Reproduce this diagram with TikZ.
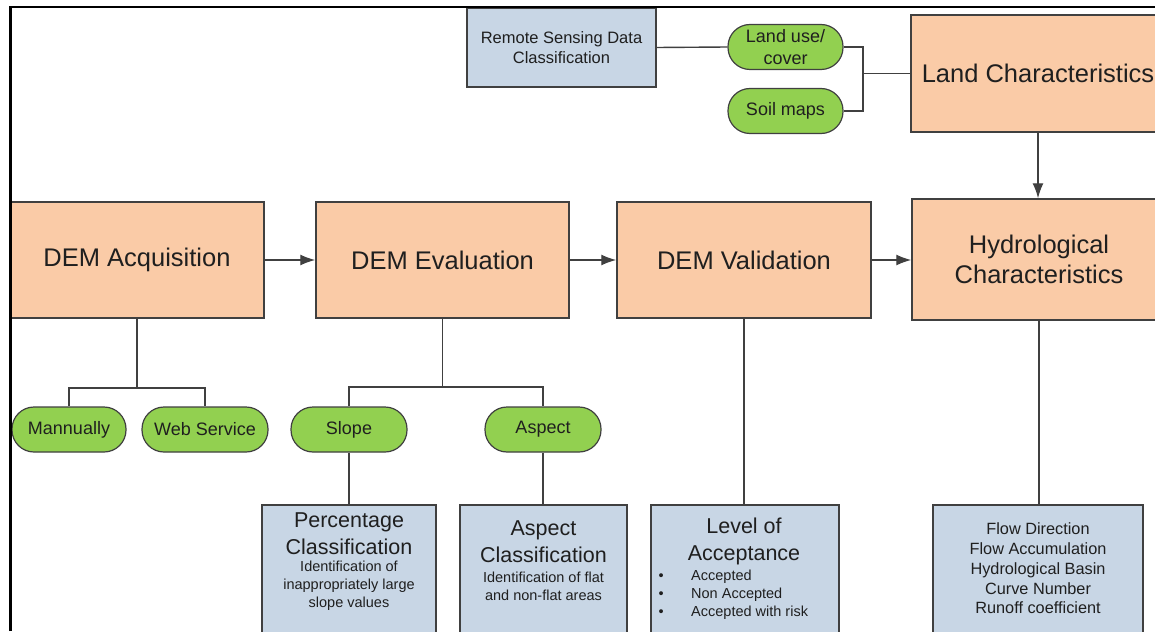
\documentclass[tikz,border=0pt]{standalone}
\usepackage{fontspec}
\setmainfont{Liberation Sans}
\usepackage{tikz}
\usetikzlibrary{arrows.meta}
\definecolor{peach}{HTML}{FACBA7}
\definecolor{slateblue}{HTML}{C8D6E5}
\definecolor{leafgreen}{HTML}{92D050}
\definecolor{edgegray}{HTML}{404040}
\definecolor{inkgray}{HTML}{1F1F1F}

\begin{document}
\begin{tikzpicture}
[every node/.style={inner sep=0pt, text=inkgray},
 stage/.style={rectangle, fill=peach, draw=edgegray, line width=1.5pt, minimum width=254pt, minimum height=116pt, align=center, font=\fontsize{25.5}{30}\selectfont},
 pill/.style={rectangle, rounded corners=22pt, fill=leafgreen, draw=edgegray, line width=1.2pt, minimum height=45pt, align=center, font=\fontsize{18}{22}\selectfont},
 infobox/.style={rectangle, fill=slateblue, draw=edgegray, line width=1.5pt},
 heading/.style={align=center, font=\fontsize{21.5}{27}\selectfont},
 detail/.style={align=center, font=\fontsize{14.5}{18}\selectfont},
 link/.style={draw=edgegray, line width=1.4pt},
 flowto/.style={link, -{Latex[length=15pt, width=11pt]}}]
\useasboundingbox (0pt,0pt) rectangle (1155pt,-631pt);
\clip (0pt,0pt) rectangle (1155pt,-631pt);
\fill [white] (0pt,0pt) rectangle (1155pt,-631pt);

% land data
\node (remote) [infobox, minimum width=189pt, minimum height=79pt, align=center, font=\fontsize{16.5}{19.5}\selectfont] at (561.5pt,-47.5pt) {Remote Sensing Data\\Classification};
\node (landuse) [pill, minimum width=115pt] at (785.5pt,-47pt) {Land use/\\cover};
\node (soil) [pill, minimum width=115pt] at (785.5pt,-111pt) {Soil maps};
\node (landchar) [stage, minimum height=117pt] at (1038pt,-73.5pt) {Land Characteristics};

% main chain
\node (acq) [stage] at (137pt,-260pt) {DEM Acquisition};
\node (eval) [stage, minimum width=253pt] at (442.5pt,-260pt) {DEM Evaluation};
\node (valid) [stage] at (744pt,-260pt) {DEM Validation};
\node (hydro) [stage, minimum height=121pt] at (1039pt,-259.5pt) {Hydrological\\Characteristics};

% options
\node (manual) [pill, minimum width=114pt] at (69pt,-429.5pt) {Mannually};
\node (web) [pill, minimum width=126pt] at (205pt,-429.5pt) {Web Service};
\node (slope) [pill, minimum width=116pt] at (349pt,-429.5pt) {Slope};
\node (aspect) [pill, minimum width=116pt] at (543pt,-429.5pt) {Aspect};

% results
\node (pct) [infobox, minimum width=174pt, minimum height=150pt, anchor=north] at (349pt,-504pt) {};
\node (asp) [infobox, minimum width=167pt, minimum height=150pt, anchor=north] at (543.5pt,-504pt) {};
\node (loa) [infobox, minimum width=188pt, minimum height=150pt, anchor=north] at (745pt,-504pt) {};
\node (flow) [infobox, minimum width=210pt, minimum height=150pt, anchor=north] at (1038pt,-504pt) {};

\node (pcthead) [heading] at (349pt,-533.5pt) {Percentage\\Classification};
\node (pctnote) [detail] at (349pt,-586pt) {Identification of\\inappropriately large\\slope values};
\node (asphead) [heading] at (543.5pt,-541.5pt) {Aspect\\Classification};
\node (aspnote) [detail] at (543.5pt,-586.5pt) {Identification of flat\\and non-flat areas};
\node (loahead) [heading] at (744pt,-541.5pt) {Level of\\Acceptance};
\node (loalist) [detail, align=left, anchor=west] at (658.5pt,-595pt) {\makebox[32.5pt][l]{\textbullet}Accepted\\\makebox[32.5pt][l]{\textbullet}Non Accepted\\\makebox[32.5pt][l]{\textbullet}Accepted with risk};
\node (flowlist) [align=center, font=\fontsize{16.3}{19.8}\selectfont] at (1038pt,-568.5pt) {Flow Direction\\Flow Accumulation\\Hydrological Basin\\Curve Number\\Runoff coefficient};

% connectors
\coordinate (lcjoin) at (863pt,-73.5pt);
\coordinate (acqfork) at (137pt,-388pt);
\coordinate (evalfork) at (442.5pt,-387pt);
\draw [link] (remote.east) -- (landuse.west);
\draw [link] (landuse.east) -| (lcjoin) |- (soil.east);
\draw [link] (landchar.west) -- (lcjoin);
\draw [flowto] (landchar.south) -- (landchar.south |- hydro.north);
\draw [flowto] (acq.east) -- (eval.west);
\draw [flowto] (eval.east) -- (valid.west);
\draw [flowto] (valid.east) -- (valid.east -| hydro.west);
\draw [link] (acq.south) -- (acqfork);
\draw [link] (manual.north) |- (acqfork) -| (web.north);
\draw [link] (eval.south) -- (evalfork);
\draw [link] (slope.north) |- (evalfork) -| (aspect.north);
\draw [link] (slope.south) -- (pct.north);
\draw [link] (aspect.south) -- (aspect.south |- asp.north);
\draw [link] (valid.south) -- (valid.south |- loa.north);
\draw [link] (hydro.south) -- (hydro.south |- flow.north);

% frame
\draw [line width=2.7pt] (10.7pt,-631pt) -- (10.7pt,-7pt) -- (1155pt,-7pt);
\end{tikzpicture}
\end{document}
